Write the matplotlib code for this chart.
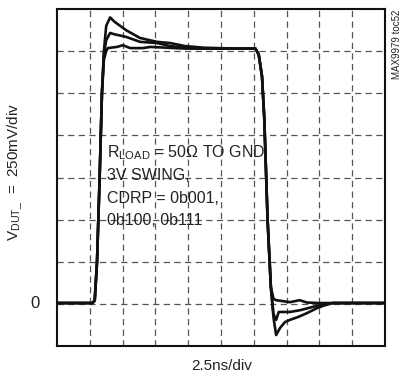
import matplotlib
matplotlib.use('Agg')
import matplotlib.pyplot as plt

plt.rcParams['font.family'] = ['Liberation Sans', 'DejaVu Sans']
plt.rcParams['mathtext.fontset'] = 'custom'
plt.rcParams['mathtext.rm'] = 'Liberation Sans'
plt.rcParams['mathtext.it'] = 'Liberation Sans'

# time in ns (2.5ns/div), output in V (250mV/div)
t_a = [0, 2.7, 2.875, 3.05, 3.25, 3.425, 3.575, 3.75, 4.05, 4.375, 5.25, 6.325, 7.625, 8.625,
       9.75, 11.25, 13.75, 15.125, 15.375, 15.625, 15.8, 16.05, 16.3, 16.5, 16.7, 17.0, 17.375,
       17.75, 18.375, 19.05, 19.825, 20.275, 21.0, 25]
v_a = [0.005, 0.005, 0.02, 0.25, 0.75, 1.25, 1.5, 1.65, 1.70, 1.675, 1.625, 1.578, 1.555, 1.548,
       1.53, 1.52, 1.515, 1.515, 1.48, 1.35, 1.1, 0.5, 0.1, -0.08, -0.185, -0.143, -0.108,
       -0.095, -0.078, -0.055, -0.025, -0.012, 0.005, 0.005]

t_b = [0, 2.7, 2.875, 3.05, 3.25, 3.425, 3.575, 3.75, 4.05, 4.375, 5.25, 6.325, 7.625, 8.625,
       9.75, 11.25, 13.75, 15.125, 15.375, 15.625, 15.8, 16.05, 16.3, 16.5, 16.7, 16.9, 17.75,
       18.5, 19.5, 20.05, 21.0, 25]
v_b = [0.005, 0.005, 0.02, 0.25, 0.75, 1.25, 1.48, 1.565, 1.608, 1.6, 1.585, 1.555, 1.548, 1.53,
       1.52, 1.515, 1.515, 1.515, 1.48, 1.35, 1.1, 0.5, 0.1, -0.06, -0.095, -0.048, -0.048,
       -0.038, -0.018, -0.008, 0.005, 0.005]

t_c = [0, 2.7, 2.875, 3.05, 3.25, 3.425, 3.575, 3.75, 3.875, 4.575, 5.025, 5.575, 6.55, 7.1,
       9.75, 13.75, 15.125, 15.375, 15.625, 15.8, 16.05, 16.3, 16.5, 16.7, 17.75, 18.5, 19.05,
       20.0, 25]
v_c = [0.005, 0.005, 0.02, 0.25, 0.75, 1.25, 1.45, 1.50, 1.518, 1.525, 1.535, 1.518, 1.518, 1.525,
       1.515, 1.515, 1.515, 1.48, 1.35, 1.1, 0.5, 0.1, 0.03, 0.022, 0.01, 0.022, 0.008,
       0.005, 0.005]

x_grid = [2.5 * i for i in range(1, 10)]
y_grid = [0.25 * i for i in range(0, 7)]
note_lines = [r'R$_{\mathregular{LOAD}}$ = 50Ω TO GND', '3V SWING,', 'CDRP = 0b001,', '0b100, 0b111']

fig = plt.figure(figsize=(4.04, 3.79), dpi=100)
ax = fig.add_axes([57/404, 33/379, 328/404, 337/379])
ax.set_xlim(0, 25)
ax.set_ylim(-0.25, 1.75)

for xg in x_grid:
    ax.axvline(xg, color='#555555', lw=0.9, ls=(0, (5, 3.5)), zorder=1)
for yg in y_grid:
    ax.axhline(yg, color='#555555', lw=0.9, ls=(0, (5, 3.5)), zorder=1)

for t, v in [(t_a, v_a), (t_b, v_b), (t_c, v_c)]:
    ax.plot(t, v, color='#111111', lw=1.9, solid_joinstyle='round', zorder=3)

ax.set_xticks([])
ax.set_yticks([])
for s in ax.spines.values():
    s.set_linewidth(1.5)
    s.set_color('#111111')

for i, line in enumerate(note_lines):
    ax.text(0.152, 0.573 - i * 0.067, line, transform=ax.transAxes, fontsize=11.5,
            ha='left', va='center', color='#222222', zorder=4)

fig.text(35/404, (379-303)/379, '0', fontsize=12, ha='center', va='center', color='#222222')
fig.text(15/404, (379-172)/379, r'V$_{\mathregular{DUT\_}}$  =  250mV/div', rotation=90,
         fontsize=11, ha='center', va='center', color='#222222')
fig.text(222/404, (379-366)/379, '2.5ns/div', fontsize=11, ha='center', va='center',
         color='#222222')
fig.text(397/404, (379-44)/379, 'MAX9979 toc52', rotation=90, fontsize=7,
         ha='center', va='center', color='#222222')

fig.savefig('out.png', dpi=100)
